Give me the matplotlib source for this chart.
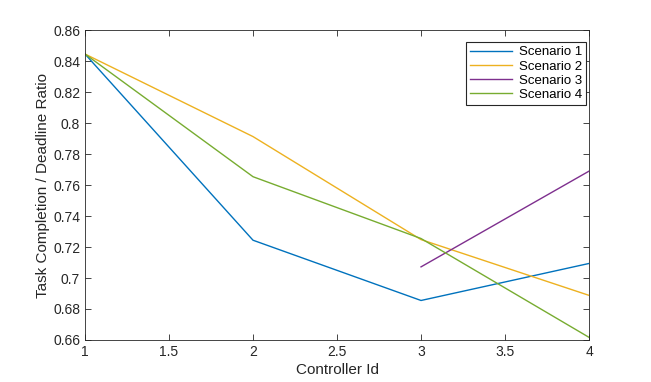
import matplotlib
matplotlib.use('Agg')
import matplotlib.pyplot as plt

x = [1, 2, 3, 4]
x3 = [3, 4]
scenario1 = [0.8446, 0.7244, 0.6855, 0.7094]
scenario2 = [0.8446, 0.7913, 0.7248, 0.6888]
scenario3 = [0.7072, 0.7690]
scenario4 = [0.8446, 0.7654, 0.7255, 0.6617]
xticks = [1, 1.5, 2, 2.5, 3, 3.5, 4]
yticks = [0.66, 0.68, 0.7, 0.72, 0.74, 0.76, 0.78, 0.8, 0.82, 0.84, 0.86]

plt.rcParams['font.family'] = 'Liberation Sans'

fig = plt.figure(figsize=(6.51, 3.82), dpi=100)
ax = fig.add_axes([0.1306, 0.110, 0.7742, 0.811])

ax.plot(x, scenario1, color=(0, 0.447, 0.741), linewidth=1, label='Scenario 1')
ax.plot(x, scenario2, color=(0.929, 0.694, 0.125), linewidth=1, label='Scenario 2')
ax.plot(x3, scenario3, color=(0.494, 0.184, 0.556), linewidth=1, label='Scenario 3')
ax.plot(x, scenario4, color=(0.466, 0.674, 0.188), linewidth=1, label='Scenario 4')

ax.set_xlim(1, 4)
ax.set_ylim(0.66, 0.86)
ax.set_xticks(xticks)
ax.set_xticklabels([('%g' % v) for v in xticks])
ax.set_yticks(yticks)
ax.set_yticklabels([('%g' % v) for v in yticks])
ax.tick_params(direction='in', top=True, right=True, labelsize=10, length=4,
               width=0.6, colors='#262626')
for s in ax.spines.values():
    s.set_linewidth(0.6)
    s.set_color('#262626')

ax.set_xlabel('Controller Id', fontsize=11, color='#262626', labelpad=3)
ax.set_ylabel('Task Completion / Deadline Ratio', fontsize=11, color='#262626', labelpad=2)

leg = ax.legend(loc='upper right', bbox_to_anchor=(0.994, 0.961), borderaxespad=0,
                fontsize=9.5, fancybox=False, framealpha=1, edgecolor='#262626',
                handlelength=3.2, borderpad=0.3, labelspacing=0.15, handletextpad=0.5)
leg.get_frame().set_linewidth(0.8)

fig.savefig('out.png', dpi=100)
